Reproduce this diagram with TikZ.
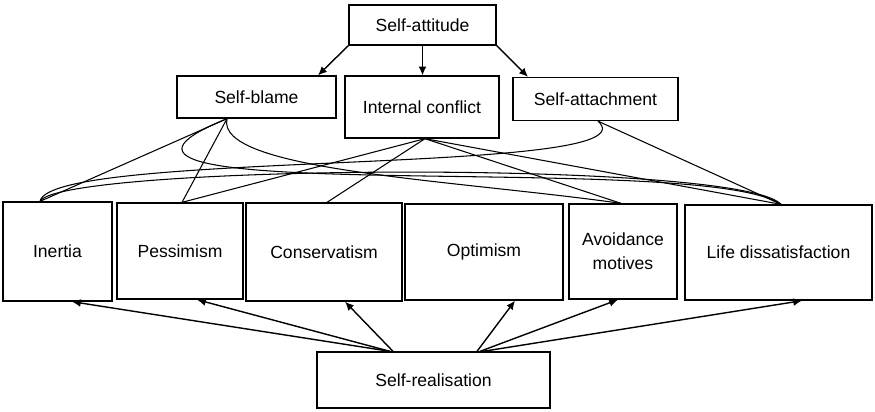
\documentclass[tikz,border=0pt]{standalone}
\usepackage{fontspec}
\setmainfont{Liberation Sans}
\usetikzlibrary{arrows.meta}

\begin{document}
\begin{tikzpicture}[
  box/.style={draw, line width=0.75pt, inner sep=2pt, align=center},
  link/.style={line width=0.6pt},
  arr/.style={line width=0.8pt, -{Latex[length=5pt,width=4.5pt]}}]
  \useasboundingbox (0,0) rectangle (17.5,-8.22);
  % upper level
  \node[box, minimum width=2.94cm, minimum height=0.80cm] (att)    at (8.45,-0.50) {Self-attitude};
  \node[box, minimum width=3.18cm, minimum height=0.84cm] (blame)  at (5.13,-1.94) {Self-blame};
  \node[box, minimum width=3.08cm, minimum height=1.24cm] (conf)   at (8.44,-2.14) {Internal conflict};
  \node[box, minimum width=3.30cm, minimum height=0.86cm] (attach) at (11.91,-1.98) {Self-attachment};
  % middle row
  \node[box, minimum width=2.18cm, minimum height=1.98cm] (inertia) at (1.15,-5.03) {Inertia};
  \node[box, minimum width=2.52cm, minimum height=1.92cm] (pess)    at (3.60,-5.02) {Pessimism};
  \node[box, minimum width=3.12cm, minimum height=1.96cm] (cons)    at (6.48,-5.04) {Conservatism};
  \node[box, minimum width=3.16cm, minimum height=1.92cm] (opt)     at (9.68,-5.04) {Optimism};
  \node[box, minimum width=2.16cm, minimum height=1.90cm] (avoid)   at (12.46,-5.03) {Avoidance\\[1.5pt]motives};
  \node[box, minimum width=3.74cm, minimum height=1.90cm] (life)    at (15.57,-5.05) {Life dissatisfaction};
  % bottom
  \node[box, minimum width=4.66cm, minimum height=1.12cm] (real) at (8.67,-7.60) {Self-realisation};

  \draw[arr] (att.south west) -- ([xshift=1.23cm]blame.north);
  \draw[arr] (att.south) -- (att.south |- conf.north);
  \draw[arr] (att.south east) -- ([xshift=-1.35cm]attach.north);

  \coordinate (b1) at ([xshift=-0.59cm]blame.south);
  \coordinate (c1) at ([xshift=0.06cm]conf.south);
  \coordinate (a1) at ([xshift=0.05cm]attach.south);
  \coordinate (in1) at ([xshift=-0.35cm]inertia.north);
  \coordinate (pe1) at ([xshift=0.04cm]pess.north);
  \coordinate (co1) at ([xshift=0.06cm]cons.north);
  \coordinate (av1) at ([xshift=-0.04cm]avoid.north);
  \coordinate (li1) at ([xshift=0.05cm]life.north);

  \draw[link] (b1) -- (in1);
  \draw[link] (b1) -- (pe1);
  \draw[link] (c1) -- (pe1);
  \draw[link] (c1) -- (co1);
  \draw[link] (c1) -- (av1);
  \draw[link] (c1) -- (li1);
  \draw[link] (a1) -- (li1);
  \draw[link] (b1) .. controls +(-4.54,-1.84) and +(-1.62,1.10) .. (li1);
  \draw[link] (b1) .. controls +(-0.24,-1.04) and +(-3.42,0.48) .. (av1);
  \draw[link] (a1) .. controls +(1.24,-1.10) and +(0.2,1.04) .. (in1);
  \draw[link] (in1) .. controls +(0.4,0.74) and +(-0.82,0.9) .. (li1);

  \draw[arr] ([xshift=-0.87cm]real.north) -- ([xshift=0.29cm]inertia.south);
  \draw[arr] ([xshift=-0.87cm]real.north) -- ([xshift=0.34cm]pess.south);
  \draw[arr] ([xshift=-0.81cm]real.north) -- ([xshift=0.42cm]cons.south);
  \draw[arr] ([xshift=0.87cm]real.north) -- ([xshift=0.62cm]opt.south);
  \draw[arr] ([xshift=0.93cm]real.north) -- ([xshift=-0.10cm]avoid.south);
  \draw[arr] ([xshift=0.99cm]real.north) -- ([xshift=0.47cm]life.south);
\end{tikzpicture}
\end{document}
